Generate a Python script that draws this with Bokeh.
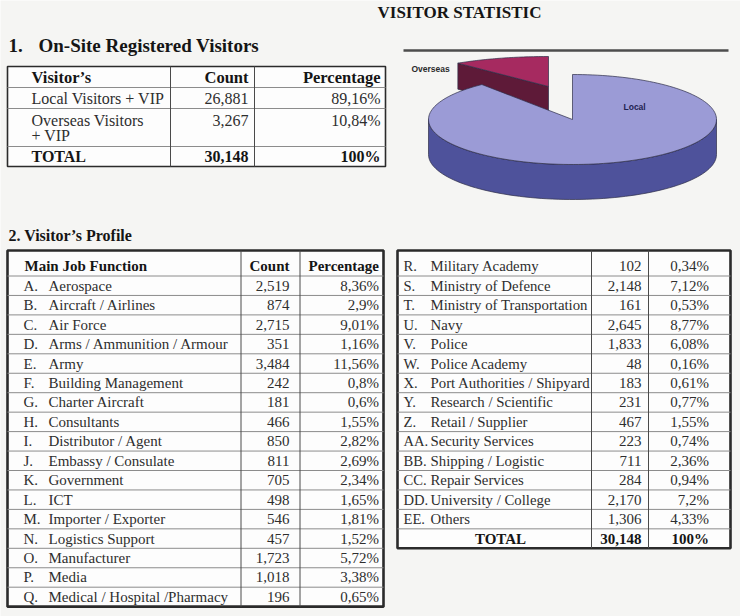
import numpy as np
from bokeh.plotting import figure
from bokeh.models import ColumnDataSource, Range1d
from bokeh.core.properties import value
from bokeh.embed import file_html
from bokeh.resources import INLINE

# ---------------- data ----------------
page_title = "VISITOR STATISTIC"
section1_number = "1."
section1_title = "On-Site Registered Visitors"
section2_title = "2. Visitor’s Profile"

visitor_headers = ["Visitor’s", "Count", "Percentage"]
visitor_labels = ["Local Visitors + VIP", "Overseas Visitors\n+ VIP"]
visitor_counts = [26881, 3267]
visitor_pcts = ["89,16%", "10,84%"]
visitor_total_label = "TOTAL"
visitor_total_count = 30148
visitor_total_pct = "100%"

pie_labels = ["Local", "Overseas"]
pie_values = [26881, 3267]

job_headers = ["Main Job Function", "Count", "Percentage"]
left_codes = ["A.", "B.", "C.", "D.", "E.", "F.", "G.", "H.", "I.", "J.", "K.",
              "L.", "M.", "N.", "O.", "P.", "Q."]
left_jobs = ["Aerospace", "Aircraft / Airlines", "Air Force",
             "Arms / Ammunition / Armour", "Army", "Building Management",
             "Charter Aircraft", "Consultants", "Distributor / Agent",
             "Embassy / Consulate", "Government", "ICT", "Importer / Exporter",
             "Logistics Support", "Manufacturer", "Media",
             "Medical / Hospital /Pharmacy"]
left_counts = [2519, 874, 2715, 351, 3484, 242, 181, 466, 850, 811, 705, 498,
               546, 457, 1723, 1018, 196]
left_pcts = ["8,36%", "2,9%", "9,01%", "1,16%", "11,56%", "0,8%", "0,6%",
             "1,55%", "2,82%", "2,69%", "2,34%", "1,65%", "1,81%", "1,52%",
             "5,72%", "3,38%", "0,65%"]

right_codes = ["R.", "S.", "T.", "U.", "V.", "W.", "X.", "Y.", "Z.", "AA.",
               "BB.", "CC.", "DD.", "EE."]
right_jobs = ["Military Academy", "Ministry of Defence",
              "Ministry of Transportation", "Navy", "Police", "Police Academy",
              "Port Authorities / Shipyard", "Research / Scientific",
              "Retail / Supplier", "Security Services", "Shipping / Logistic",
              "Repair Services", "University / College", "Others"]
right_counts = [102, 2148, 161, 2645, 1833, 48, 183, 231, 467, 223, 711, 284,
                2170, 1306]
right_pcts = ["0,34%", "7,12%", "0,53%", "8,77%", "6,08%", "0,16%", "0,61%",
              "0,77%", "1,55%", "0,74%", "2,36%", "0,94%", "7,2%", "4,33%"]
job_total_label = "TOTAL"
job_total_count = 30148
job_total_pct = "100%"

# ---------------- style ----------------
BG = "#f5f5f3"
CELL = "#fdfdfd"
SERIF = "Liberation Serif"
SANS = "Liberation Sans"
TXT = "#2e2e2e"
BOLD_TXT = "#151515"
BORDER = "#2b2b2b"
ROWLINE = "#8c8c8c"
COLLINE = "#4a4a4a"


def fmt(n):
    return f"{n:,}"


p = figure(width=740, height=616, x_range=Range1d(0, 740), y_range=Range1d(616, 0),
           output_backend="svg", toolbar_location=None,
           x_axis_location=None, y_axis_location=None, min_border=0,
           outline_line_color=None, background_fill_color=BG,
           border_fill_color=BG)
p.grid.visible = False


def txt(xs, ys, texts, size, bold=False, align="left", color=None, font=SERIF):
    src = ColumnDataSource(dict(x=list(xs), y=list(ys), t=list(texts)))
    p.text(x="x", y="y", text="t", source=src, text_font=value(font),
           text_font_size=value(f"{size}px"),
           text_font_style="bold" if bold else "normal",
           text_align=align, text_baseline="middle",
           text_color=color or (BOLD_TXT if bold else TXT))


def hsegs(ys, x0, x1, color, width):
    ys = list(ys)
    p.segment(x0=[x0] * len(ys), x1=[x1] * len(ys), y0=ys, y1=ys,
              line_color=color, line_width=width)


def vsegs(xs, y0, y1, color, width):
    xs = list(xs)
    p.segment(x0=xs, x1=xs, y0=[y0] * len(xs), y1=[y1] * len(xs),
              line_color=color, line_width=width)


def box(l, r, t, b, width):
    p.quad(left=[l], right=[r], top=[t], bottom=[b], fill_color=CELL,
           line_color=BORDER, line_width=width)


# ---------------- titles ----------------
txt([377], [12], [page_title], 17, bold=True)
txt([8], [45], [section1_number], 19, bold=True)
txt([38], [45], [section1_title], 19, bold=True)
txt([8], [235], [section2_title], 16, bold=True)

# ---------------- table 1 ----------------
t1_l, t1_r, t1_t, t1_b = 7, 385, 66, 166
box(t1_l, t1_r, t1_t, t1_b, 1.6)
hsegs([87, 108, 146], t1_l, t1_r, ROWLINE, 1)
vsegs([170, 254], t1_t, t1_b, COLLINE, 1)
c0, c1, c2 = 31, 248, 380
txt([c0], [77], [visitor_headers[0]], 16.5, bold=True)
txt([c1, c2], [77, 77], visitor_headers[1:], 16.5, bold=True, align="right")
row_ys = [98, 120]
line_gap = 15
for lab, yy in zip(visitor_labels, row_ys):
    parts = lab.split("\n")
    txt([c0] * len(parts), [yy + k * line_gap for k in range(len(parts))], parts, 16)
txt([c1] * 2, row_ys, [fmt(v) for v in visitor_counts], 16, align="right")
txt([c2] * 2, row_ys, visitor_pcts, 16, align="right")
txt([c0], [156], [visitor_total_label], 16, bold=True)
txt([c1], [156], [fmt(visitor_total_count)], 16, bold=True, align="right")
txt([c2], [156], [visitor_total_pct], 16, bold=True, align="right")

# ---------------- pie (3D) ----------------
p.segment(x0=[403], x1=[728], y0=[50], y1=[50], line_color="#4d4d4d", line_width=2.5)
cx, cy, rx, ry, depth = 572, 119, 144, 45, 35
ov_dx, ov_dy, ov_ry, ov_depth = -24, -33, 30, 26
total = float(sum(pie_values))
frac_over = pie_values[1] / total
a0 = 90.0
a1 = a0 + 360.0 * frac_over          # overseas: a0 -> a1
a2 = a0 + 360.0                        # local: a1 -> a2
EDGE = "#2e2e48"

# overseas slice (exploded)
ox, oy = cx + ov_dx, cy + ov_dy
tt = np.radians(np.linspace(a0, a1, 40))
ov_top_x = [ox] + list(ox + rx * np.cos(tt))
ov_top_y = [oy] + list(oy - ov_ry * np.sin(tt))
ea = np.radians(a1)
wx = [ox, ox + rx * np.cos(ea), ox + rx * np.cos(ea), ox]
wy = [oy, oy - ov_ry * np.sin(ea), oy - ov_ry * np.sin(ea) + ov_depth, oy + ov_depth]
p.patch(wx, wy, fill_color="#5e1a38", line_color=EDGE, line_width=0.7)
p.patch(ov_top_x, ov_top_y, fill_color="#a62a60", line_color=EDGE, line_width=0.7)

# local slice
fa = np.radians(np.linspace(max(a1, 180), min(a2, 360), 80))
side_x = list(cx + rx * np.cos(fa)) + list(cx + rx * np.cos(fa[::-1]))
side_y = list(cy - ry * np.sin(fa)) + list(cy - ry * np.sin(fa[::-1]) + depth)
p.patch(side_x, side_y, fill_color="#4e529b", line_color=EDGE, line_width=0.7)
lt = np.radians(np.linspace(a1, a2, 160))
lt_x = [cx] + list(cx + rx * np.cos(lt))
lt_y = [cy] + list(cy - ry * np.sin(lt))
p.patch(lt_x, lt_y, fill_color="#9b9bd6", line_color=EDGE, line_width=0.7)

txt([623], [106], [pie_labels[0]], 8.5, bold=True, color="#1f2352", font=SANS)
txt([411], [68], [pie_labels[1]], 8.5, bold=True, color="#2a2a2a", font=SANS)

# ---------------- table 2 ----------------
tt_top, head_bot, pitch = 250, 275.5, 19.45
fs = 15

# left table
L_l, L_r = 7, 383
n_left = len(left_codes)
L_b = head_bot + n_left * pitch
box(L_l, L_r, tt_top, L_b, 2.6)
hsegs([head_bot + k * pitch for k in range(n_left)], L_l, L_r, ROWLINE, 1)
vsegs([240.5, 299.5], tt_top, L_b, COLLINE, 1)
hy = 265
txt([24], [hy], [job_headers[0]], fs, bold=True)
txt([289, 378.5], [hy, hy], job_headers[1:], fs, bold=True, align="right")
ly = [head_bot + (i + 0.5) * pitch for i in range(n_left)]
txt([23] * n_left, ly, left_codes, fs)
txt([48] * n_left, ly, left_jobs, fs)
txt([289] * n_left, ly, [fmt(v) for v in left_counts], fs, align="right")
txt([378.5] * n_left, ly, left_pcts, fs, align="right")

# right table
R_l, R_r = 397, 730
n_right = len(right_codes)
R_b = head_bot + n_right * pitch
box(R_l, R_r, tt_top, R_b, 2.6)
hsegs([head_bot + k * pitch for k in range(n_right)], R_l, R_r, ROWLINE, 1)
vsegs([591, 648], tt_top, R_b, COLLINE, 1)
ry_rows = [hy] + [head_bot + (j - 0.5) * pitch for j in range(1, n_right)]
txt([403] * n_right, ry_rows, right_codes, 14.6)
txt([430] * n_right, ry_rows, right_jobs, 14.8)
txt([641] * n_right, ry_rows, [fmt(v) for v in right_counts], fs, align="right")
txt([708.5] * n_right, ry_rows, right_pcts, fs, align="right")
ty = head_bot + (n_right - 0.5) * pitch
txt([500], [ty], [job_total_label], fs, bold=True, align="center")
txt([641], [ty], [fmt(job_total_count)], fs, bold=True, align="right")
txt([708.5], [ty], [job_total_pct], fs, bold=True, align="right")

open("out.html", "w").write(file_html(p, INLINE))
